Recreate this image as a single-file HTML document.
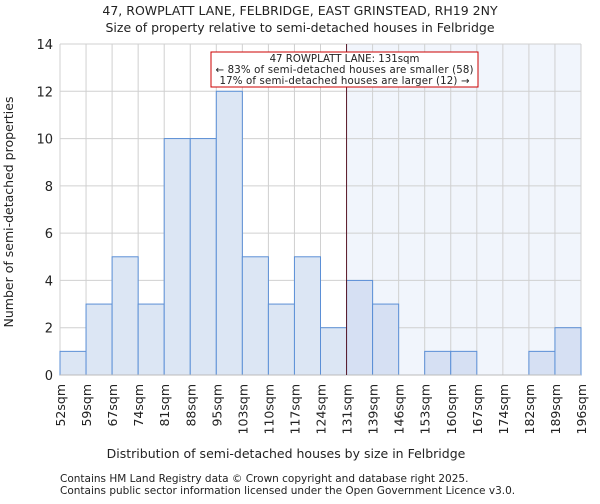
<!DOCTYPE html>
<html><head><meta charset="utf-8"><style>
body{margin:0;background:#fff;font-family:"DejaVu Sans","Liberation Sans",sans-serif}
svg text{font-family:"DejaVu Sans","Liberation Sans",sans-serif;fill:#222}
</style></head><body>
<svg id="c" width="600" height="500">
<text x="300" y="15" text-anchor="middle" font-size="12.5">47, ROWPLATT LANE, FELBRIDGE, EAST GRINSTEAD, RH19 2NY</text>
<text x="300" y="32" text-anchor="middle" font-size="12.5">Size of property relative to semi-detached houses in Felbridge</text>
<g id="plot"></g>
<text x="286" y="458" text-anchor="middle" font-size="12.5">Distribution of semi-detached houses by size in Felbridge</text>
<text transform="translate(13,212) rotate(-90)" text-anchor="middle" font-size="12.5">Number of semi-detached properties</text>
<text x="60" y="482" font-size="10.5">Contains HM Land Registry data © Crown copyright and database right 2025.</text>
<text x="60" y="494" font-size="10.5">Contains public sector information licensed under the Open Government Licence v3.0.</text>
</svg>
<script>
const categories=["52sqm","59sqm","67sqm","74sqm","81sqm","88sqm","95sqm","103sqm","110sqm","117sqm","124sqm","131sqm","139sqm","146sqm","153sqm","160sqm","167sqm","174sqm","182sqm","189sqm","196sqm"];
const counts=[1,3,5,3,10,10,12,5,3,5,2,4,3,0,1,1,0,0,1,2];
const yTicks=[0,2,4,6,8,10,12,14];
const markerIndex=11;
const NS="http://www.w3.org/2000/svg";
const g=document.getElementById('plot');
const L=60,R=581,T=44,B=375,yMax=14;
const nb=counts.length, bw=(R-L)/nb;
const x=i=>L+i*bw, y=v=>B-(v/yMax)*(B-T);
function el(t,a){const e=document.createElementNS(NS,t);for(const k in a)e.setAttribute(k,a[k]);g.appendChild(e);return e;}
let e=el('rect',{x:x(markerIndex),y:T,width:R-x(markerIndex),height:B-T,fill:'#f1f5fc'});

yTicks.forEach(v=>{let l=el('line',{x1:L,x2:R,y1:y(v),y2:y(v),stroke:'#d0d0d0','stroke-width':1});

let t=el('text',{x:L-7,y:y(v)+5,'text-anchor':'end','font-size':13});t.textContent=v;
});
categories.forEach((c,i)=>{let l=el('line',{x1:x(i),x2:x(i),y1:T,y2:B,stroke:'#d0d0d0','stroke-width':1});

let t=el('text',{transform:`translate(${x(i)+5},384) rotate(-90)`,'text-anchor':'end','font-size':12.5});t.textContent=c;
});
counts.forEach((v,i)=>{if(v<=0)return;let r=el('rect',{x:x(i),y:y(v),width:bw,height:B-y(v),fill:i>=markerIndex?'#d6e0f3':'#dce6f4',stroke:'#5b8fd6','stroke-width':1});
});
let ax=el('line',{x1:L,x2:R,y1:B,y2:B,stroke:'#bbb'});
let ml=el('line',{x1:x(markerIndex),x2:x(markerIndex),y1:T,y2:B,stroke:'#5a1a2a','stroke-width':1});

let bx=el('rect',{x:211,y:52,width:267,height:35,fill:'#fff',stroke:'#c00','stroke-width':1});

["47 ROWPLATT LANE: 131sqm","← 83% of semi-detached houses are smaller (58)","17% of semi-detached houses are larger (12) →"].forEach((s,k)=>{
let t=el('text',{x:344.5,y:62+k*11,'text-anchor':'middle','font-size':10.2,textLength:k==0?null:258});t.textContent=s;
if(k>0){t.setAttribute('textLength',k==1?258:250);}else{t.removeAttribute('textLength');}
});
</script>
</body></html>
